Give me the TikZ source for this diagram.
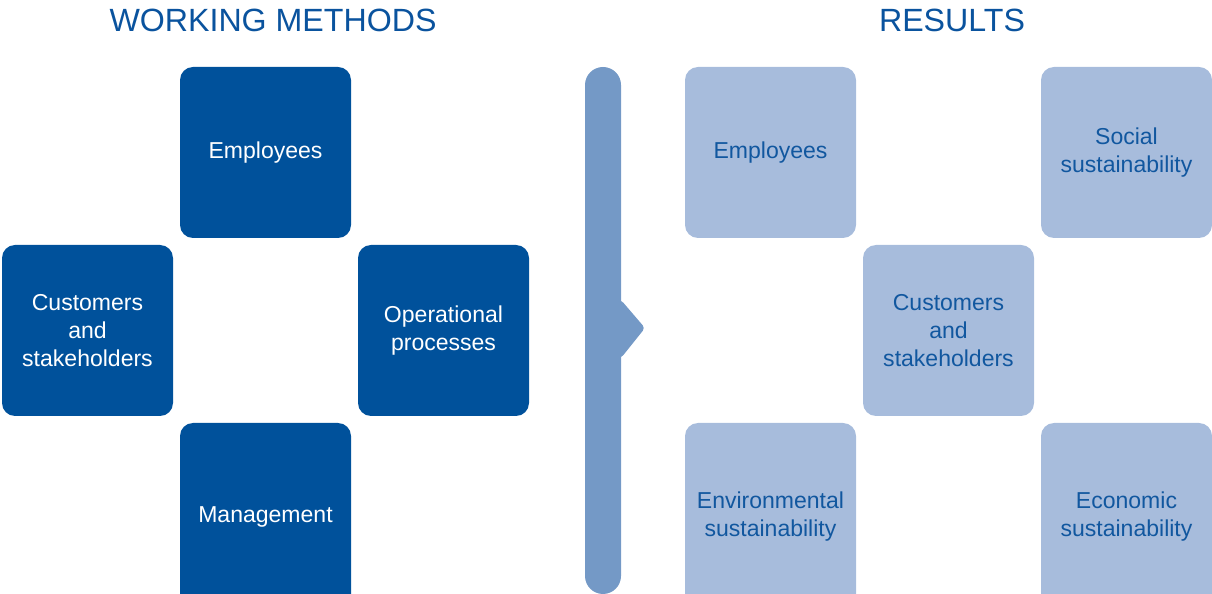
\documentclass[tikz,border=0pt]{standalone}
\usepackage{fontspec}
\setmainfont{Liberation Sans}
\usepackage{tikz}
\definecolor{methodblue}{HTML}{00519B}
\definecolor{resultfill}{HTML}{A7BCDC}
\definecolor{resulttext}{HTML}{11579F}
\definecolor{barblue}{HTML}{7499C6}
\definecolor{titleblue}{HTML}{0A539E}
\tikzset{%
    box/.style={minimum width=3.42cm, minimum height=3.42cm, rounded corners=0.26cm,
        align=center, inner sep=0pt, font=\fontsize{13.1}{15.9}\selectfont},
    lowbox/.style={minimum height=3.74cm},
    method/.style={box, fill=methodblue, text=white},
    result/.style={box, fill=resultfill, text=resulttext},
    heading/.style={anchor=base, text=titleblue, font=\fontsize{18.3}{22}\selectfont}
}

\begin{document}
\begin{tikzpicture}
      \useasboundingbox (0,0) rectangle (24.24,11.86);

      \node[heading] (methodstitle) at (5.46,11.22) {WORKING METHODS};
      \node[heading] (resultstitle) at (19.04,11.22) {RESULTS};

      % working methods
      \node[method] (mEmployees) at (5.31,8.81) {Employees};
      \node[method] (mCustomers) at (1.75,5.25) {Customers\\and\\stakeholders};
      \node[method] (mProcesses) at (8.87,5.25) {Operational\\processes};
      \node[method, lowbox] (mManagement) at (5.31,1.53) {Management};

      % bar with arrow
      \fill[barblue, rounded corners=0.36cm] (11.70,-0.02) rectangle (12.42,10.52);
      \fill[barblue, rounded corners=2pt] (12.30,5.86) -- (12.42,5.86) -- (12.90,5.30) -- (12.42,4.70) -- (12.30,4.70) -- cycle;

      % results
      \node[result] (rEmployees) at (15.41,8.81) {Employees};
      \node[result] (rSocial) at (22.53,8.81) {Social\\sustainability};
      \node[result] (rCustomers) at (18.97,5.25) {Customers\\and\\stakeholders};
      \node[result, lowbox] (rEnvironment) at (15.41,1.53) {Environmental\\sustainability};
      \node[result, lowbox] (rEconomic) at (22.53,1.53) {Economic\\sustainability};
    \end{tikzpicture}
\end{document}
